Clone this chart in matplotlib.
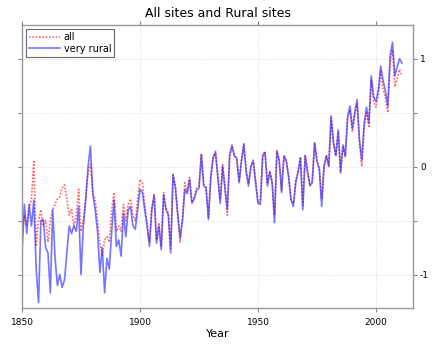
import matplotlib
matplotlib.use("Agg")
import matplotlib.pyplot as plt
import numpy as np

years = list(range(1850, 2012))

very_rural = [
    -0.80, -0.35, -0.62, -0.35, -0.55, -0.31, -0.95, -1.26, -0.50, -0.49,   # 1850s
    -0.75, -0.80, -1.17, -0.40, -0.85, -1.10, -1.00, -1.12, -1.05, -0.80,   # 1860s
    -0.55, -0.62, -0.55, -0.60, -0.37, -1.00, -0.55, -0.30, 0.00, 0.19,     # 1870s
    -0.25, -0.40, -0.60, -0.98, -0.75, -1.17, -0.85, -0.95, -0.60, -0.31,   # 1880s
    -0.74, -0.68, -0.83, -0.43, -0.65, -0.40, -0.37, -0.55, -0.58, -0.40,   # 1890s
    -0.21, -0.24, -0.40, -0.55, -0.74, -0.40, -0.27, -0.71, -0.55, -0.77,   # 1900s
    -0.26, -0.40, -0.45, -0.80, -0.07, -0.20, -0.45, -0.66, -0.50, -0.21,   # 1910s
    -0.25, -0.12, -0.34, -0.30, -0.22, -0.20, 0.11, -0.18, -0.20, -0.49,    # 1920s
    -0.10, 0.08, 0.13, -0.10, -0.34, 0.00, -0.20, -0.40, 0.10, 0.19,        # 1930s
    0.10, 0.08, -0.15, 0.05, 0.20, -0.05, -0.18, 0.00, 0.05, -0.15,         # 1940s
    -0.34, -0.35, 0.10, 0.13, -0.18, -0.05, -0.15, -0.52, 0.14, 0.06,       # 1950s
    -0.24, 0.10, 0.05, -0.10, -0.31, -0.37, -0.15, -0.05, 0.08, -0.40,      # 1960s
    0.10, -0.05, -0.18, -0.15, 0.22, 0.05, -0.03, -0.37, 0.00, 0.10,        # 1970s
    0.00, 0.47, 0.22, 0.10, 0.34, -0.06, 0.20, 0.10, 0.47, 0.56,            # 1980s
    0.35, 0.50, 0.62, 0.25, 0.06, 0.40, 0.55, 0.40, 0.84, 0.65,             # 1990s
    0.60, 0.71, 0.93, 0.80, 0.70, 0.56, 1.02, 1.15, 0.84, 0.92,             # 2000s
    1.00, 0.96,                                                             # 2010s
]

all_sites = [
    -0.65, -0.45, -0.55, -0.40, -0.30, 0.06, -0.74, -0.50, -0.40, -0.55,    # 1850s
    -0.50, -0.70, -0.50, -0.40, -0.35, -0.30, -0.28, -0.20, -0.17, -0.30,   # 1860s
    -0.45, -0.40, -0.55, -0.45, -0.21, -0.60, -0.50, -0.30, -0.05, 0.02,    # 1870s
    -0.25, -0.30, -0.50, -0.71, -0.83, -0.68, -0.65, -0.70, -0.40, -0.24,   # 1880s
    -0.60, -0.55, -0.60, -0.35, -0.50, -0.35, -0.30, -0.45, -0.50, -0.30,   # 1890s
    -0.12, -0.15, -0.35, -0.52, -0.70, -0.38, -0.25, -0.68, -0.52, -0.74,   # 1900s
    -0.24, -0.38, -0.43, -0.76, -0.08, -0.18, -0.43, -0.70, -0.48, -0.15,   # 1910s
    -0.23, -0.10, -0.33, -0.28, -0.20, -0.18, 0.12, -0.16, -0.19, -0.47,    # 1920s
    -0.08, 0.09, 0.14, -0.08, -0.30, 0.02, -0.18, -0.45, 0.12, 0.20,        # 1930s
    0.10, 0.06, -0.14, 0.06, 0.22, -0.03, -0.16, 0.01, 0.06, -0.13,         # 1940s
    -0.33, -0.32, 0.11, 0.14, -0.16, -0.04, -0.13, -0.45, 0.15, 0.05,       # 1950s
    -0.22, 0.10, 0.06, -0.08, -0.30, -0.34, -0.13, -0.04, 0.09, -0.36,      # 1960s
    0.11, -0.04, -0.16, -0.13, 0.22, 0.06, -0.02, -0.30, 0.01, 0.10,        # 1970s
    0.01, 0.45, 0.21, 0.10, 0.32, -0.05, 0.19, 0.09, 0.44, 0.52,            # 1980s
    0.32, 0.47, 0.58, 0.22, 0.00, 0.36, 0.50, 0.36, 0.80, 0.60,             # 1990s
    0.55, 0.66, 0.88, 0.72, 0.64, 0.50, 0.96, 1.08, 0.74, 0.82,             # 2000s
    0.90, 0.84,                                                             # 2010s
]

xticks = [1850, 1900, 1950, 2000]
yticks = [-1, -0.5, 0, 0.5, 1]
ytick_labels = ['-1', '', '0', '', '1']

fig = plt.figure(figsize=(4.43, 3.54), dpi=100)
ax = fig.add_axes([0.0497, 0.130, 0.8826, 0.799])

ax.plot(years, all_sites, color='#ff4040', linestyle=(0, (1, 1)), linewidth=1.2, alpha=0.8, label='all')
ax.plot(years, very_rural, color='#2020ff', linestyle='-', linewidth=1.2, alpha=0.62, label='very rural')

ax.set_xlim(1850, 2015.7)
ax.set_ylim(-1.31, 1.31)
ax.set_xticks(xticks)
ax.set_xticklabels([str(t) for t in xticks], fontsize=6.5)
ax.set_yticks(yticks)
ax.set_yticklabels(ytick_labels, fontsize=6.5)

ax.yaxis.tick_right()
ax.tick_params(axis='y', which='both', left=True, right=True, labelleft=False, labelright=True,
               direction='out', length=3, color='#888888', pad=2)
ax.tick_params(axis='x', which='both', top=True, bottom=True, direction='out', length=3,
               color='#888888', pad=4)

ax.grid(True, linestyle=':', color='#d8d8d8', linewidth=0.6)
for s in ax.spines.values():
    s.set_color('#999999')
    s.set_linewidth(1.0)

ax.set_title('All sites and Rural sites', fontsize=9, pad=6)
ax.set_xlabel('Year', fontsize=8, labelpad=2)

leg = ax.legend(loc='upper left', fontsize=7, frameon=True, fancybox=False,
                borderaxespad=0.4, handlelength=3.2, handletextpad=0.4,
                borderpad=0.3, labelspacing=0.2)
leg.get_frame().set_edgecolor('#444444')
leg.get_frame().set_linewidth(0.8)

fig.savefig('out.png', dpi=100)
